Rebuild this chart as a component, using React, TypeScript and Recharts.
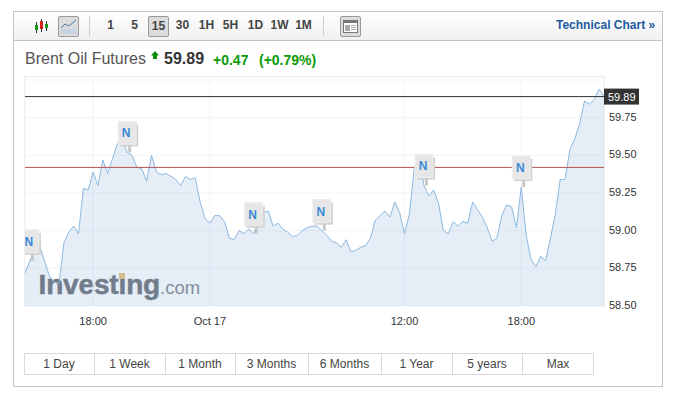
import React from 'react'
import {
  AreaChart, Area, XAxis, YAxis, CartesianGrid, ReferenceLine, ReferenceDot
} from 'recharts'

const FONT = 'Arial, "Liberation Sans", sans-serif'

// 15 minute bars, Oct 16 14:30 -> Oct 17 22:15 (market shut for a while after 00:45)
const times = [
  '16 14:30', '16 14:45', '16 15:00', '16 15:15', '16 15:30', '16 15:45', '16 16:00', '16 16:15',
  '16 16:30', '16 16:45', '16 17:00', '16 17:15', '16 17:30', '16 17:45', '16 18:00', '16 18:15',
  '16 18:30', '16 18:45', '16 19:00', '16 19:15', '16 19:30', '16 19:45', '16 20:00', '16 20:15',
  '16 20:30', '16 20:45', '16 21:00', '16 21:15', '16 21:30', '16 21:45', '16 22:00', '16 22:15',
  '16 22:30', '16 22:45', '16 23:00', '16 23:15', '16 23:30', '16 23:45',
  '17 00:00', '17 00:15', '17 00:30', '17 00:45',
  '17 03:00', '17 03:15', '17 03:30', '17 03:45', '17 04:00', '17 04:15', '17 04:30', '17 04:45',
  '17 05:00', '17 05:15', '17 05:30', '17 05:45', '17 06:00', '17 06:15', '17 06:30', '17 06:45',
  '17 07:00', '17 07:15', '17 07:30', '17 07:45', '17 08:00', '17 08:15', '17 08:30', '17 08:45',
  '17 09:00', '17 09:15', '17 09:30', '17 09:45', '17 10:00', '17 10:15', '17 10:30', '17 10:45',
  '17 11:00', '17 11:15', '17 11:30', '17 11:45', '17 12:00', '17 12:15', '17 12:30', '17 12:45',
  '17 13:00', '17 13:15', '17 13:30', '17 13:45', '17 14:00', '17 14:15', '17 14:30', '17 14:45',
  '17 15:00', '17 15:15', '17 15:30', '17 15:45', '17 16:00', '17 16:15', '17 16:30', '17 16:45',
  '17 17:00', '17 17:15', '17 17:30', '17 17:45', '17 18:00', '17 18:15', '17 18:30', '17 18:45',
  '17 19:00', '17 19:15', '17 19:30', '17 19:45', '17 20:00', '17 20:15', '17 20:30', '17 20:45',
  '17 21:00', '17 21:15', '17 21:30', '17 21:45', '17 22:00', '17 22:15',
]

const prices = [
  58.72, 58.80, 58.87, 58.90, 58.80, 58.70, 58.66, 58.65, 58.92, 58.99,
  59.03, 58.98, 59.28, 59.27, 59.39, 59.30, 59.47, 59.38, 59.48, 59.58,
  59.60, 59.52, 59.50, 59.42, 59.41, 59.33, 59.50, 59.39, 59.37, 59.38,
  59.36, 59.34, 59.30, 59.36, 59.34, 59.35, 59.19, 59.08, 59.05, 59.10,
  59.10, 59.06, 58.95, 58.94, 59.00, 58.98, 59.01, 58.98, 59.07, 59.12,
  59.13, 59.03, 59.05, 59.01, 58.99, 58.96, 58.97, 59.00, 59.02, 59.03,
  59.03, 59.00, 58.97, 58.93, 58.92, 58.89, 58.94, 58.86, 58.87, 58.89,
  58.90, 58.95, 59.07, 59.10, 59.13, 59.09, 59.19, 59.12, 58.98, 59.11,
  59.41, 59.48, 59.30, 59.23, 59.27, 59.18, 59.00, 58.98, 59.06, 59.03,
  59.06, 59.05, 59.19, 59.14, 59.09, 59.02, 58.93, 58.95, 59.10, 59.17,
  59.16, 59.02, 59.29, 58.97, 58.81, 58.76, 58.83, 58.80, 58.95, 59.11,
  59.34, 59.34, 59.54, 59.61, 59.71, 59.86, 59.84, 59.87, 59.94, 59.89,
]

const xTicks = ['16 18:00', '17 00:00', '17 12:00', '17 18:00']
const xTickLabels = ['18:00', 'Oct 17', '12:00', '18:00']
const yTicks = [58.5, 58.75, 59, 59.25, 59.5, 59.75, 60]
const newsTimes = ['16 14:45', '16 19:45', '17 04:15', '17 07:45', '17 13:00', '17 18:00']

const lastPrice = 59.89
const prevClose = 59.42

const intervals = ['1', '5', '15', '30', '1H', '5H', '1D', '1W', '1M']
const intervalCenters = [110, 134, 158, 182, 206, 230, 255, 279, 303]
const ranges = ['1 Day', '1 Week', '1 Month', '3 Months', '6 Months', '1 Year', '5 years', 'Max']
const rangeEdges = [24.5, 94.5, 165.5, 235.5, 308.5, 381.5, 452.5, 522.5, 593.5]

const chartData = times.map((t, i) => ({ time: t, price: prices[i] }))

const abs = (left: number, top: number, extra: React.CSSProperties = {}): React.CSSProperties => ({
  position: 'absolute', left, top, ...extra,
})

const NewsFlag = (props: any) => {
  const { cx, cy } = props
  if (cx == null || cy == null) return null
  return (
    <g clipPath="url(#plotClip)">
      <rect x={cx + 1} y={cy - 12} width={3} height={12} fill="#c8c8c8" />
      <rect x={cx - 7} y={cy - 28} width={18} height={22} fill="#cfcfcf" />
      <rect x={cx - 9} y={cy - 31} width={18} height={23} fill="#e6e6e6" stroke="#eeeeee" />
      <text x={cx - 1} y={cy - 15} textAnchor="middle" fontSize={12} fontWeight="bold" fontFamily={FONT} fill="#3b8ad6">N</text>
    </g>
  )
}

const PriceTag = (props: any) => {
  const { viewBox } = props
  const right = viewBox.x + viewBox.width
  return (
    <g>
      <rect x={right} y={viewBox.y - 8} width={35} height={16} fill="#333333" />
      <text x={right + 4} y={viewBox.y + 4} fontSize={11} fontFamily={FONT} fill="#ffffff">{lastPrice.toFixed(2)}</text>
    </g>
  )
}

const toolBtn: React.CSSProperties = {
  boxSizing: 'border-box', border: '1px solid #9a9a9a', borderRadius: 2,
  background: '#dcdcdc', width: 21, height: 21,
}

export default function App() {
  return (
    <div style={abs(0, 0, { width: 675, height: 403, background: '#fff', fontFamily: FONT, overflow: 'hidden' })}>
      {/* outer frame + toolbar */}
      <div style={abs(13, 11, { boxSizing: 'border-box', width: 650, height: 376, border: '1px solid #c4c4c4' })} />
      <div style={abs(14, 12, { width: 648, height: 28, background: 'linear-gradient(#ffffff, #f1f1f1)', borderBottom: '1px solid #c4c4c4' })} />

      <svg style={abs(34, 19)} width={16} height={15}>
        <line x1={2.5} y1={3} x2={2.5} y2={14} stroke="#333" />
        <rect x={1} y={6} width={3} height={5} fill="#1a9a1a" />
        <line x1={7.5} y1={0} x2={7.5} y2={13} stroke="#333" />
        <rect x={6} y={2} width={3} height={8} fill="#d42020" />
        <line x1={12.5} y1={2} x2={12.5} y2={12} stroke="#333" />
        <rect x={11} y={5} width={3} height={4} fill="#1a9a1a" />
      </svg>
      <div style={abs(58, 16, toolBtn)}>
        <svg width={19} height={19} style={{ display: 'block' }}>
          <polyline points="2,11 6,7 10,9 17,3" fill="none" stroke="#4d7fb5" />
          <rect x={2} y={12} width={15} height={5} fill="#c6d3e2" />
        </svg>
      </div>
      <div style={abs(89, 16, { width: 1, height: 20, background: '#cfcfcf' })} />
      {intervals.map((t, i) => (
        <div key={t} style={abs(intervalCenters[i] - 10, 16, {
          boxSizing: 'border-box', width: 21, height: 21, lineHeight: '19px', textAlign: 'center',
          fontSize: 12, fontWeight: 'bold', color: '#444',
          ...(t === '15' ? { border: '1px solid #9a9a9a', borderRadius: 2, background: '#dcdcdc' } : {}),
        })}>{t}</div>
      ))}
      <div style={abs(323, 16, { width: 1, height: 20, background: '#cfcfcf' })} />
      <div style={abs(340, 16, toolBtn)}>
        <svg width={19} height={19} style={{ display: 'block' }}>
          <rect x={2.5} y={3.5} width={14} height={12} fill="#fff" stroke="#777" />
          <rect x={3} y={4} width={13} height={2} fill="#777" />
          <rect x={4} y={8} width={5} height={6} fill="#aaa" />
          <rect x={10} y={8} width={5} height={1} fill="#aaa" />
          <rect x={10} y={10} width={5} height={1} fill="#aaa" />
          <rect x={10} y={12} width={5} height={1} fill="#aaa" />
        </svg>
      </div>
      <div style={abs(556, 18, { fontSize: 12, fontWeight: 'bold', color: '#1c5a9e', whiteSpace: 'nowrap' })}>Technical Chart <span style={{ marginLeft: 0 }}>»</span></div>

      {/* quote line */}
      <div style={abs(25, 50, { fontSize: 16, color: '#555', whiteSpace: 'nowrap' })}>Brent Oil Futures</div>
      <svg style={abs(151, 51)} width={8} height={8}>
        <polygon points="4,0 8,4.5 6,4.5 6,8 2,8 2,4.5 0,4.5" fill="#0a8f0a" />
      </svg>
      <div style={abs(164, 50, { fontSize: 16, fontWeight: 'bold', color: '#333' })}>59.89</div>
      <div style={abs(213, 52, { fontSize: 14, fontWeight: 'bold', color: '#0a9a0a' })}>+0.47</div>
      <div style={abs(259, 52, { fontSize: 14, fontWeight: 'bold', color: '#0a9a0a' })}>(+0.79%)</div>

      {/* plot frame, watermark sits under the line */}
      <div style={abs(24, 76, { boxSizing: 'border-box', width: 581, height: 231, border: '1px solid #e9e9ef', borderBottom: 'none' })} />
      <div style={abs(38.5, 268, { fontSize: 28, fontWeight: 'bold', color: '#6f7478', WebkitTextStroke: '0.5px #6f7478', letterSpacing: -0.15, whiteSpace: 'nowrap', lineHeight: '33px' })}>
        Investing<span style={{ fontSize: 18.5, fontWeight: 'normal', color: '#858a8e', WebkitTextStroke: '0', letterSpacing: 0 }}>.com</span>
      </div>
      <div style={abs(119, 273, { width: 6, height: 6, background: '#e8c27a' })} />

      <div style={abs(0, 0)}>
        <AreaChart width={675} height={403} data={chartData} margin={{ top: 77, right: 31, left: 25, bottom: 67 }}>
          <defs>
            <clipPath id="plotClip">
              <rect x={25} y={77} width={579} height={229} />
            </clipPath>
          </defs>
          <CartesianGrid stroke="#f3f4f8" />
          <XAxis
            dataKey="time"
            scale="point"
            ticks={xTicks}
            interval={0}
            height={30}
            axisLine={false}
            tickLine={false}
            tickSize={0}
            tickMargin={11}
            tickFormatter={(t: string) => xTickLabels[xTicks.indexOf(t)] ?? ''}
            tick={{ fontSize: 11, fill: '#333', fontFamily: FONT }}
          />
          <YAxis
            orientation="right"
            domain={[58.5, 60.02]}
            ticks={yTicks}
            interval={0}
            width={40}
            axisLine={false}
            tickLine={false}
            tickSize={0}
            tickMargin={5}
            tickFormatter={(v: number) => (v >= 60 ? '' : v.toFixed(2))}
            tick={{ fontSize: 11, fill: '#333', fontFamily: FONT, dy: -1 }}
          />
          <Area
            type="linear"
            dataKey="price"
            stroke="#8db9e0"
            strokeWidth={1}
            fill="#7ba6d2"
            fillOpacity={0.2}
            dot={false}
            activeDot={false}
            isAnimationActive={false}
          />
          <ReferenceLine y={prevClose} stroke="#b5524f" strokeWidth={1} />
          <ReferenceLine y={lastPrice} stroke="#333333" strokeWidth={1} label={<PriceTag />} />
          {newsTimes.map(t => (
            <ReferenceDot key={t} x={t} y={prices[times.indexOf(t)]} shape={NewsFlag} />
          ))}
        </AreaChart>
      </div>

      {/* range buttons */}
      <div style={abs(24, 353, { width: 570, height: 22, boxSizing: 'border-box', border: '1px solid #d8d8d8' })} />
      {ranges.map((r, i) => (
        <div key={r} style={abs(rangeEdges[i], 353, {
          boxSizing: 'border-box', width: rangeEdges[i + 1] - rangeEdges[i], height: 22, lineHeight: '22px',
          textAlign: 'center', fontSize: 12, color: '#444',
          borderRight: i < ranges.length - 1 ? '1px solid #d8d8d8' : 'none',
        })}>{r}</div>
      ))}
    </div>
  )
}
